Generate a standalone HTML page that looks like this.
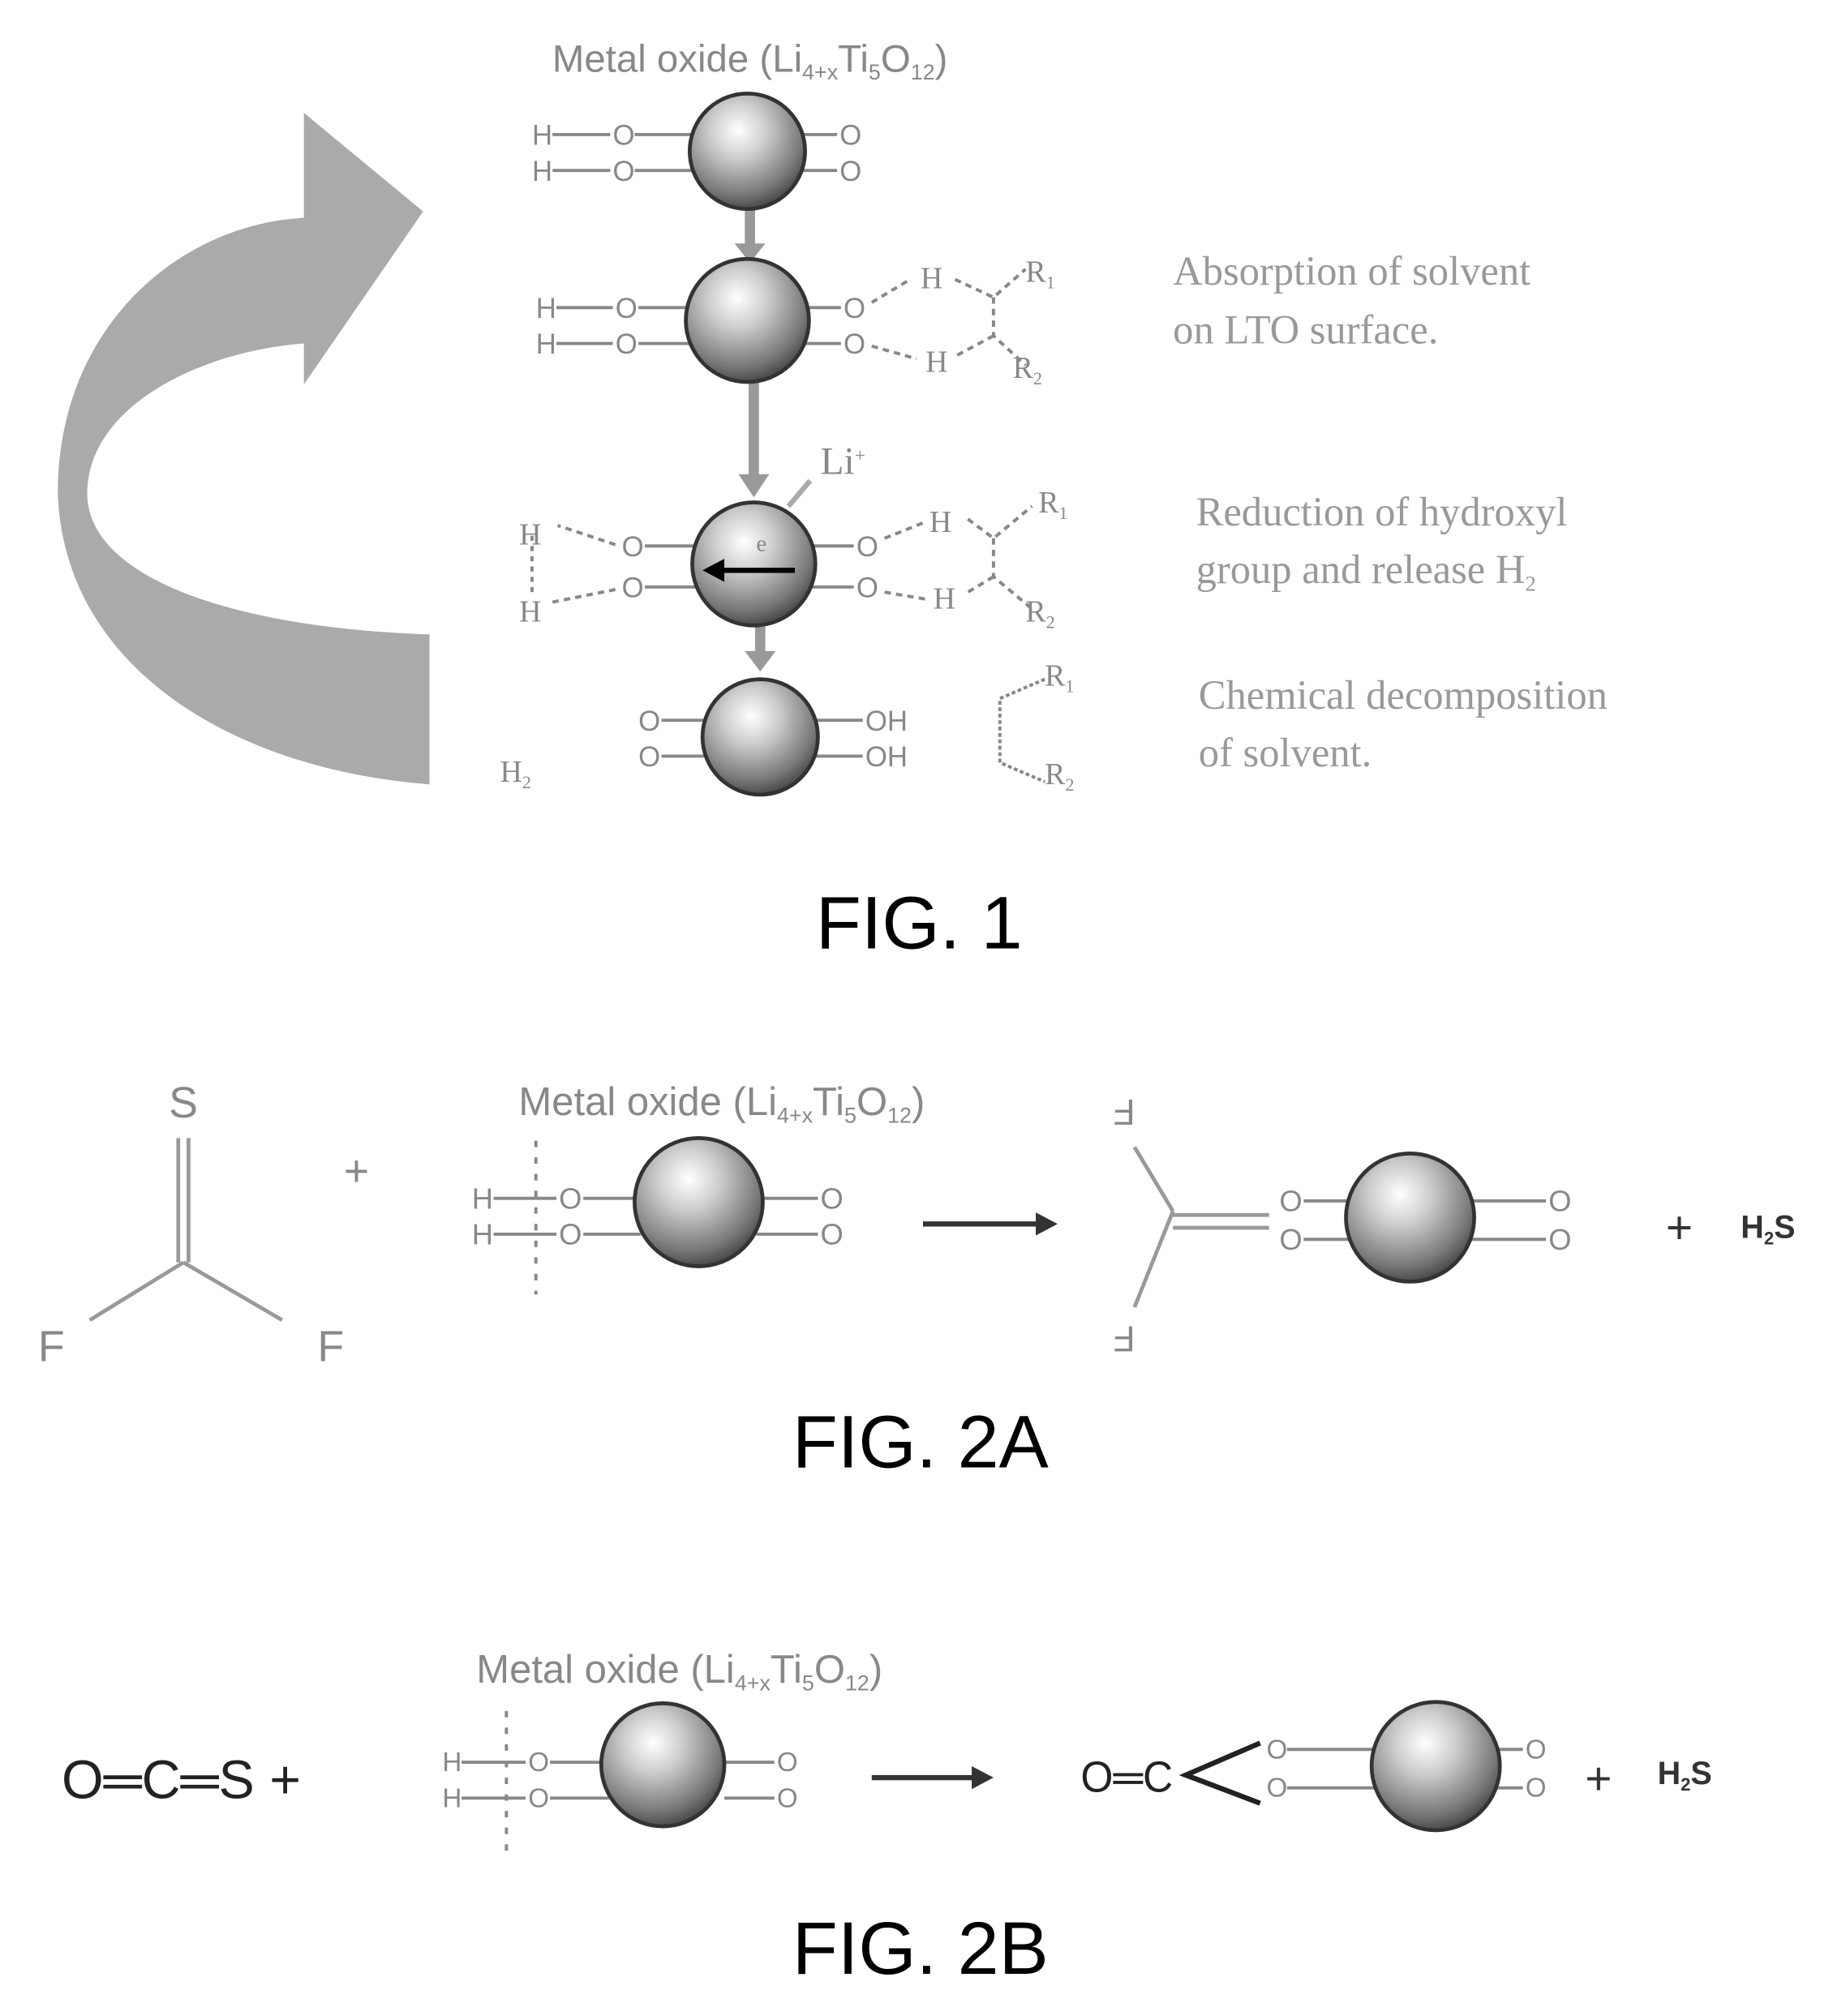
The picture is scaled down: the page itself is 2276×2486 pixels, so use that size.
<!DOCTYPE html>
<html><head><style>html,body{margin:0;padding:0;background:#fff}svg{display:block}</style></head><body>
<svg width="2276" height="2486" viewBox="0 0 1440 1573" xmlns="http://www.w3.org/2000/svg">
<defs>
<radialGradient id="sp" cx="0.42" cy="0.32" r="0.7">
<stop offset="0" stop-color="#fff"/><stop offset="0.35" stop-color="#ccc"/><stop offset="0.8" stop-color="#777"/><stop offset="1" stop-color="#444"/>
</radialGradient>
</defs>
<g font-family="Liberation Sans, sans-serif" fill="#888">
<!-- FIG 1 -->
<path d="M335,612 C180,600 50,520 45,385 C45,255 140,175 237,170 L237,88 L330,165 L237,300 L237,268 C150,275 68,320 68,385 C68,450 180,490 335,495 Z" fill="#aaa"/>
<text x="585" y="56" text-anchor="middle" font-size="30">Metal oxide (Li<tspan font-size="17" dy="6">4+x</tspan><tspan dy="-6">Ti</tspan><tspan font-size="17" dy="6">5</tspan><tspan dy="-6">O</tspan><tspan font-size="17" dy="6">12</tspan><tspan dy="-6">)</tspan></text>
<g stroke="#999" stroke-width="8"><line x1="585" y1="160" x2="585" y2="195"/><line x1="588" y1="295" x2="588" y2="378"/><line x1="593" y1="475" x2="593" y2="515"/></g>
<g fill="#999"><polygon points="573,190 597,190 585,205"/><polygon points="576,370 600,370 588,388"/><polygon points="581,508 605,508 593,524"/></g>
<g stroke="#888" stroke-width="2.5" fill="none">
<path d="M431,105 H476 M495,105 H540 M431,133 H476 M495,133 H540 M625,105 H653 M625,133 H653"/>
<path d="M434,240 H478 M498,240 H540 M434,268 H478 M498,268 H540 M625,240 H656 M625,268 H656"/>
<path d="M680,236 L710,218 M745,218 L775,232 L800,210 M775,232 L775,262 L800,285 M775,262 L745,278 M680,270 L715,280" stroke-dasharray="5,4"/>
<path d="M503,426 H545 M503,458 H545 M630,426 H666 M630,458 H666"/>
<path d="M690,420 L720,408 M690,462 L725,468 M755,405 L775,420 L805,395 M775,420 L775,450 L805,475 M775,450 L755,462 M480,425 L435,410 M480,460 L430,470" stroke-dasharray="5,4"/>
<path d="M516,562 H552 M516,590 H552 M632,562 H673 M632,590 H673"/>
<path d="M815,530 L780,545 L780,595 L815,610" stroke-dasharray="3,2"/>
<line x1="415" y1="418" x2="415" y2="465" stroke-dasharray="4,4"/>
</g>
<g fill="url(#sp)" stroke="#333" stroke-width="3">
<circle cx="583" cy="118" r="45"/><circle cx="583" cy="250" r="48"/><circle cx="588" cy="440" r="48"/><circle cx="593" cy="575" r="45"/>
</g>
<line x1="620" y1="445" x2="560" y2="445" stroke="#000" stroke-width="4"/><polygon points="548,445 565,436 565,454" fill="#000"/>
<line x1="615" y1="395" x2="632" y2="375" stroke="#aaa" stroke-width="4"/>
<g font-size="22"><text x="415" y="113">H</text><text x="415" y="141">H</text><text x="478" y="113">O</text><text x="478" y="141">O</text><text x="655" y="113">O</text><text x="655" y="141">O</text>
<text x="418" y="248">H</text><text x="418" y="276">H</text><text x="480" y="248">O</text><text x="480" y="276">O</text><text x="658" y="248">O</text><text x="658" y="276">O</text>
<text x="485" y="434">O</text><text x="485" y="466">O</text><text x="668" y="434">O</text><text x="668" y="466">O</text>
<text x="498" y="570">O</text><text x="498" y="598">O</text><text x="675" y="570">OH</text><text x="675" y="598">OH</text></g>
<g font-family="Liberation Serif, serif" font-size="24"><text x="718" y="225">H</text><text x="722" y="290">H</text><text x="800" y="220">R<tspan font-size="14" dy="5">1</tspan></text><text x="790" y="295">R<tspan font-size="14" dy="5">2</tspan></text>
<text x="725" y="415">H</text><text x="728" y="475">H</text><text x="810" y="400">R<tspan font-size="14" dy="5">1</tspan></text><text x="800" y="485">R<tspan font-size="14" dy="5">2</tspan></text>
<text x="405" y="425">H</text><text x="405" y="485">H</text><text x="640" y="370" font-size="30">Li<tspan font-size="15" dy="-10">+</tspan></text>
<text x="590" y="430" font-size="18">e</text>
<text x="815" y="535">R<tspan font-size="14" dy="5">1</tspan></text><text x="815" y="612">R<tspan font-size="14" dy="5">2</tspan></text><text x="390" y="610">H<tspan font-size="14" dy="5">2</tspan></text>
<g font-size="32" fill="#999"><text x="915" y="222">Absorption of solvent</text><text x="915" y="268">on LTO surface.</text>
<text x="933" y="410">Reduction of hydroxyl</text><text x="933" y="455">group and release H<tspan font-size="17" dy="6">2</tspan></text>
<text x="935" y="553">Chemical decomposition</text><text x="935" y="598">of solvent.</text></g></g>
<text x="717" y="740" text-anchor="middle" font-size="58" fill="#000">FIG. 1</text>

<!-- FIG 2A -->
<text x="143" y="872" text-anchor="middle" font-size="34">S</text>
<g stroke="#999" stroke-width="3"><line x1="139" y1="888" x2="139" y2="985"/><line x1="147" y1="888" x2="147" y2="985"/><line x1="143" y1="985" x2="70" y2="1030"/><line x1="143" y1="985" x2="220" y2="1030"/>
<line x1="915" y1="945" x2="885" y2="895"/><line x1="915" y1="945" x2="885" y2="1020"/><line x1="915" y1="948" x2="990" y2="948"/><line x1="915" y1="958" x2="990" y2="958"/></g>
<text x="40" y="1062" text-anchor="middle" font-size="34">F</text><text x="258" y="1062" text-anchor="middle" font-size="34">F</text>
<text x="278" y="925" text-anchor="middle" font-size="34">+</text>
<text x="563" y="870" text-anchor="middle" font-size="31">Metal oxide (Li<tspan font-size="17" dy="6">4+x</tspan><tspan dy="-6">Ti</tspan><tspan font-size="17" dy="6">5</tspan><tspan dy="-6">O</tspan><tspan font-size="17" dy="6">12</tspan><tspan dy="-6">)</tspan></text>
<g stroke="#888" stroke-width="2.5" fill="none"><path d="M385,935 H434 M455,935 H500 M385,963 H434 M455,963 H500 M590,935 H638 M590,963 H638"/>
<line x1="418" y1="890" x2="418" y2="1010" stroke-dasharray="5,8"/>
<path d="M1017,937 H1060 M1017,967 H1060 M1140,937 H1206 M1140,967 H1206"/></g>
<g font-size="23"><text x="368" y="943">H</text><text x="368" y="971">H</text><text x="436" y="943">O</text><text x="436" y="971">O</text><text x="640" y="943">O</text><text x="640" y="971">O</text>
<text x="998" y="945">O</text><text x="998" y="975">O</text><text x="1208" y="945">O</text><text x="1208" y="975">O</text></g>
<text x="877" y="878" text-anchor="middle" font-size="28" transform="rotate(180 877 868)">F</text>
<text x="877" y="1055" text-anchor="middle" font-size="28" transform="rotate(180 877 1045)">F</text>
<g fill="url(#sp)" stroke="#333" stroke-width="3"><circle cx="545" cy="938" r="50"/><circle cx="1100" cy="950" r="50"/></g>
<line x1="720" y1="955" x2="812" y2="955" stroke="#333" stroke-width="4"/><polygon points="825,955 808,946 808,964" fill="#333"/>
<text x="1310" y="970" text-anchor="middle" font-size="36" fill="#333">+</text>
<text x="1358" y="966" font-size="25" fill="#333" font-weight="bold">H<tspan font-size="14" dy="5">2</tspan><tspan dy="-5">S</tspan></text>
<text x="718" y="1145" text-anchor="middle" font-size="58" fill="#000">FIG. 2A</text>

<!-- FIG 2B -->
<text x="48" y="1403" font-size="42" fill="#222">O═C═S +</text>
<text x="530" y="1313" text-anchor="middle" font-size="31">Metal oxide (Li<tspan font-size="17" dy="6">4+x</tspan><tspan dy="-6">Ti</tspan><tspan font-size="17" dy="6">5</tspan><tspan dy="-6">O</tspan><tspan font-size="17" dy="6">12</tspan><tspan dy="-6">)</tspan></text>
<g stroke="#888" stroke-width="2.5" fill="none"><path d="M360,1375 H410 M429,1375 H475 M360,1403 H410 M429,1403 H475 M565,1375 H604 M565,1403 H604"/>
<line x1="395" y1="1335" x2="395" y2="1450" stroke-dasharray="5,8"/>
<path d="M1004,1365 H1080 M1004,1395 H1080 M1160,1365 H1188 M1160,1395 H1188"/></g>
<g font-size="21"><text x="345" y="1382">H</text><text x="345" y="1410">H</text><text x="412" y="1382">O</text><text x="412" y="1410">O</text><text x="606" y="1382">O</text><text x="606" y="1410">O</text>
<text x="988" y="1372">O</text><text x="988" y="1402">O</text><text x="1190" y="1372">O</text><text x="1190" y="1402">O</text></g>
<text x="843" y="1398" font-size="34" fill="#222" textLength="72" lengthAdjust="spacingAndGlyphs">O═C</text>
<path d="M983,1360 L925,1385 L983,1407" stroke="#222" stroke-width="4" fill="none"/>
<g fill="url(#sp)" stroke="#333" stroke-width="3"><circle cx="517" cy="1377" r="48"/><circle cx="1120" cy="1378" r="50"/></g>
<line x1="680" y1="1387" x2="762" y2="1387" stroke="#333" stroke-width="4"/><polygon points="775,1387 758,1378 758,1396" fill="#333"/>
<text x="1247" y="1400" text-anchor="middle" font-size="36" fill="#333">+</text>
<text x="1293" y="1392" font-size="25" fill="#333" font-weight="bold">H<tspan font-size="14" dy="5">2</tspan><tspan dy="-5">S</tspan></text>
<text x="718" y="1540" text-anchor="middle" font-size="58" fill="#000">FIG. 2B</text>
</g>
</svg>
</body></html>
